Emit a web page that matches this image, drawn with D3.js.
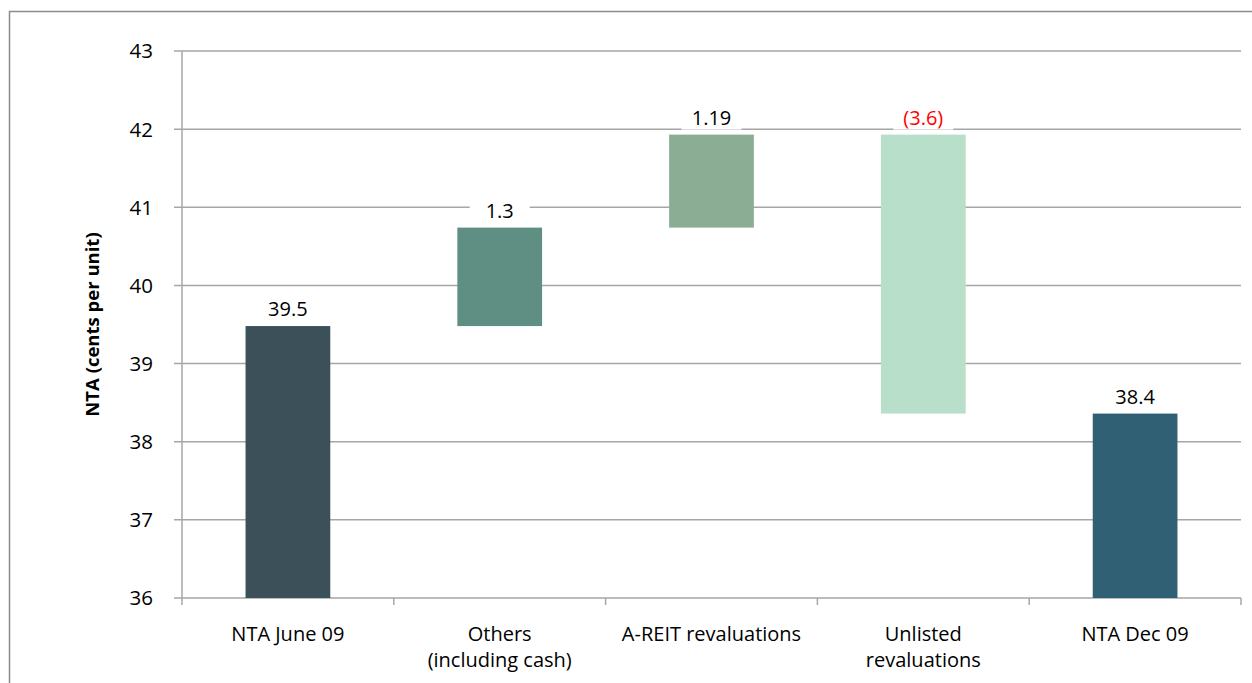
<!DOCTYPE html>
<html>
<head>
<meta charset="utf-8">
<script src="https://cdn.jsdelivr.net/npm/d3@7"></script>
<style>
  body { margin: 0; background: #fff; }
  svg { display: block; font-family: "Open Sans", "Liberation Sans", sans-serif; }
</style>
</head>
<body>
<svg id="chart" width="1252" height="683"></svg>
<script>
// chart data
var categories = [["NTA June 09"], ["Others", "(including cash)"], ["A-REIT revaluations"], ["Unlisted", "revaluations"], ["NTA Dec 09"]];
var changes = [39.48, 1.26, 1.19, -3.57, 38.36];
var isTotal = [true, false, false, false, true];
var valueLabels = ["39.5", "1.3", "1.19", "(3.6)", "38.4"];
var barColors = ["#3b5058", "#5f8f83", "#8aad94", "#b7dfc9", "#2f6074"];
var yTicks = [36, 37, 38, 39, 40, 41, 42, 43];

var svg = d3.select("#chart");
var margin = {left: 182, right: 11, top: 51, bottom: 85};
var width = 1252, height = 683;

// frame around the chart
svg.append("rect")
    .attr("x", 9.5).attr("y", 11.5)
    .attr("width", 1260).attr("height", 700)
    .attr("fill", "none").attr("stroke", "#8c8c8c").attr("stroke-width", 1.5);

var x = d3.scaleBand()
    .domain(d3.range(categories.length))
    .range([margin.left, width - margin.right])
    .paddingInner(0.6).paddingOuter(0.3);

var y = d3.scaleLinear()
    .domain([36, 43])
    .range([height - margin.bottom, margin.top]);

// build waterfall segments
var running = 0;
var bars = changes.map(function (v, i) {
    var lo, hi;
    if (isTotal[i]) {
        lo = 36; hi = v; running = v;
    } else {
        lo = Math.min(running, running + v);
        hi = Math.max(running, running + v);
        running += v;
    }
    return {i: i, lo: lo, hi: hi, label: valueLabels[i], color: barColors[i], neg: v < 0};
});

// gridlines
svg.append("g")
    .selectAll("line")
    .data(yTicks)
    .join("line")
    .attr("x1", margin.left - 8).attr("x2", width - margin.right)
    .attr("y1", function (d) { return y(d); }).attr("y2", function (d) { return y(d); })
    .attr("stroke", "#a6a6a6").attr("stroke-width", 1.5);

// y axis line
svg.append("line")
    .attr("x1", margin.left).attr("x2", margin.left)
    .attr("y1", y(43)).attr("y2", y(36))
    .attr("stroke", "#a6a6a6").attr("stroke-width", 1.5);

// x tick marks at band edges
var edges = d3.range(categories.length + 1).map(function (i) {
    return margin.left + i * (width - margin.right - margin.left) / categories.length;
});
svg.append("g")
    .selectAll("line")
    .data(edges)
    .join("line")
    .attr("x1", function (d) { return d; }).attr("x2", function (d) { return d; })
    .attr("y1", y(36)).attr("y2", y(36) + 7)
    .attr("stroke", "#a6a6a6").attr("stroke-width", 1.5);

// y tick labels
svg.append("g")
    .selectAll("text")
    .data(yTicks)
    .join("text")
    .attr("x", 153).attr("y", function (d) { return y(d); })
    .attr("dy", "0.36em")
    .attr("text-anchor", "end")
    .attr("font-size", 20.5)
    .attr("fill", "#000")
    .text(function (d) { return d; });

// axis title
svg.append("text")
    .attr("transform", "translate(99," + ((y(36) + y(43)) / 2) + ") rotate(-90)")
    .attr("text-anchor", "middle")
    .attr("font-size", 18.5)
    .attr("font-weight", "bold")
    .text("NTA (cents per unit)");

// bars
svg.append("g")
    .selectAll("rect")
    .data(bars)
    .join("rect")
    .attr("x", function (d) { return x(d.i); })
    .attr("width", x.bandwidth())
    .attr("y", function (d) { return y(d.hi); })
    .attr("height", function (d) { return y(d.lo) - y(d.hi); })
    .attr("fill", function (d) { return d.color; });

// value labels with white backing
var lab = svg.append("g")
    .selectAll("g")
    .data(bars)
    .join("g")
    .attr("transform", function (d) {
        return "translate(" + (x(d.i) + x.bandwidth() / 2) + "," + (y(d.hi) - 17) + ")";
    });
lab.append("rect")
    .attr("x", -30).attr("y", -12).attr("width", 60).attr("height", 24)
    .attr("fill", "#fff");
lab.append("text")
    .attr("text-anchor", "middle")
    .attr("dy", "0.36em")
    .attr("font-size", 20)
    .attr("fill", function (d) { return d.neg ? "#ff0000" : "#000"; })
    .text(function (d) { return d.label; });

// category labels
var cat = svg.append("g")
    .selectAll("text")
    .data(categories)
    .join("text")
    .attr("x", function (d, i) { return x(i) + x.bandwidth() / 2; })
    .attr("y", 641)
    .attr("text-anchor", "middle")
    .attr("font-size", 20)
    .attr("fill", "#000");
cat.selectAll("tspan")
    .data(function (d) { return d; })
    .join("tspan")
    .attr("x", function () { return this.parentNode.getAttribute("x"); })
    .attr("dy", function (d, j) { return j === 0 ? 0 : 26; })
    .text(function (d) { return d; });
</script>
</body>
</html>
